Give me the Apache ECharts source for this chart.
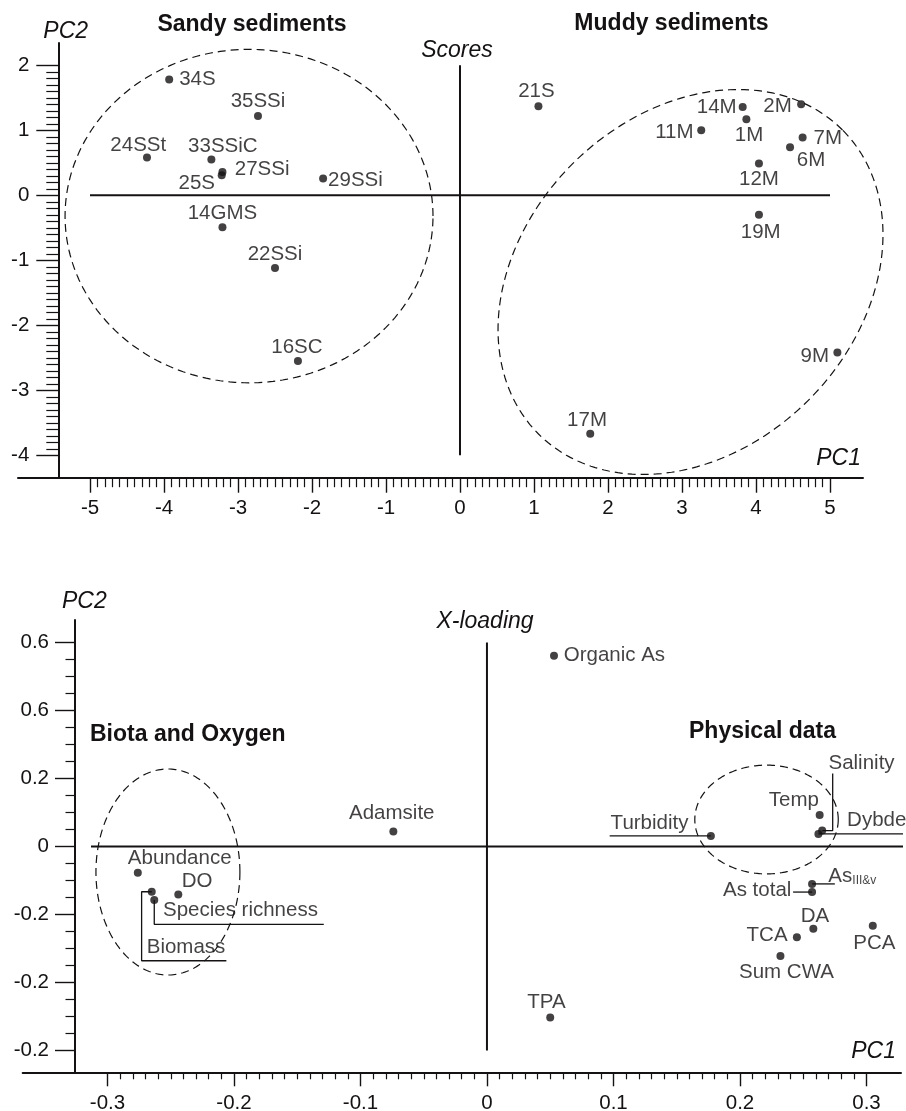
<!DOCTYPE html>
<html>
<head>
<meta charset="utf-8">
<script src="https://cdn.jsdelivr.net/npm/echarts@6/dist/echarts.min.js"></script>
<style>
  html, body { margin: 0; padding: 0; background: #fff; }
  #chart { width: 906px; height: 1111px; }
</style>
</head>
<body>
<div id="chart"></div>
<script>
// ---- PCA scores: sediment samples ----
const scoreNames = ['34S', '35SSi', '24SSt', '33SSiC', '27SSi', '25S', '29SSi', '14GMS', '22SSi', '16SC',
                    '21S', '14M', '2M', '1M', '11M', '7M', '6M', '12M', '19M', '9M', '17M'];
const scorePC1 = [-3.93, -2.73, -4.23, -3.36, -3.21, -3.22, -1.85, -3.21, -2.50, -2.19,
                  1.06, 3.82, 4.61, 3.87, 3.26, 4.63, 4.46, 4.04, 4.04, 5.10, 1.76];
const scorePC2 = [1.78, 1.22, 0.58, 0.55, 0.36, 0.31, 0.26, -0.49, -1.12, -2.55,
                  1.37, 1.36, 1.40, 1.17, 1.00, 0.89, 0.74, 0.49, -0.30, -2.42, -3.67];

// ---- PCA X-loadings: variables ----
const loadingNames = ['Organic As', 'Adamsite', 'Turbidity', 'Temp', 'Salinity', 'Dybde',
                      'Abundance', 'DO', 'Biomass', 'Species richness',
                      'As III&v', 'As total', 'DA', 'TCA', 'PCA', 'Sum CWA', 'TPA'];
const loadingPC1 = [0.053, -0.074, 0.177, 0.263, 0.265, 0.262,
                    -0.276, -0.244, -0.265, -0.263,
                    0.257, 0.257, 0.258, 0.245, 0.305, 0.232, 0.050];
const loadingPC2 = [0.561, 0.044, 0.031, 0.093, 0.047, 0.037,
                    -0.077, -0.141, -0.133, -0.157,
                    -0.110, -0.134, -0.242, -0.267, -0.233, -0.322, -0.503];

// ---- tick labels ----
const scoreXTicks = ['-5', '-4', '-3', '-2', '-1', '0', '1', '2', '3', '4', '5'];
const scoreYTicks = ['-4', '-3', '-2', '-1', '0', '1', '2'];
const loadingXTicks = ['-0.3', '-0.2', '-0.1', '0', '0.1', '0.2', '0.3'];
const loadingYTicks = ['-0.2', '-0.2', '-0.2', '0', '0.2', '0.6', '0.6'];

// ---- group outlines: [centre PC1, centre PC2, semi-axis 1 (PC1 units), semi-axis 2 (PC2 units), tilt deg] ----
const scoreGroups = [
  [-2.851, -0.32, 2.486, 2.565, 0],     // sandy sediments
  [3.115, -1.334, 2.905, 2.569, 45]     // muddy sediments
];
const loadingGroups = [
  [-0.2522, -0.075, 0.0569, 0.303, 0], // biota and oxygen
  [0.221, 0.0794, 0.0567, 0.160, 0]    // physical data
];

// ---- reference cross lines through the origin ----
const scoreCross = [[[-5, 0], [5, 0]], [[0, 2], [0, -4]]];
const loadingCross = [[[-0.313, 0], [0.331, 0]], [[0, 0.6], [0, -0.6]]];

// ---- leader lines from a variable to its label ----
const loadingLeaders = {
  'Turbidity': [[0.097, 0.031]],
  'Salinity': [[0.2733, 0.047], [0.2733, 0.215]],
  'Dybde': [[0.332, 0.037]],
  'Biomass': [[-0.273, -0.133], [-0.273, -0.336], [-0.206, -0.336]],
  'Species richness': [[-0.263, -0.229], [-0.129, -0.229]],
  'As III&v': [[0.275, -0.110]],
  'As total': [[0.242, -0.134]]
};

// label anchor: [text align, dx, dy] relative to the marker centre (px)
const scoreLabelPlacement = {
  '34S': ['left', 10, 0], '35SSi': ['center', 0, -15], '24SSt': ['center', -8.7, -12],
  '33SSiC': ['center', 11.5, -13], '27SSi': ['left', 12.3, -2.5], '25S': ['right', -6.7, 8.3],
  '29SSi': ['left', 5, 1.7], '14GMS': ['center', 0, -14], '22SSi': ['center', 0, -13.3],
  '16SC': ['center', -1, -13.5], '21S': ['center', -2, -15.2], '14M': ['right', -6, 0],
  '2M': ['right', -9.3, 2.4], '1M': ['center', 2.6, 15.7], '11M': ['right', -7.7, 1.7],
  '7M': ['left', 11, 0.6], '6M': ['left', 6.7, 12.7], '12M': ['center', 0, 15.9],
  '19M': ['center', 1.8, 17.5], '9M': ['right', -8.4, 4], '17M': ['center', -3.2, -13.2]
};
const loadingLabelPlacement = {
  'Organic As': ['left', 9.7, 0], 'Adamsite': ['center', -1.6, -18.4],
  'Turbidity': ['right', -22.4, -13], 'Temp': ['right', -0.7, -14.3],
  'Salinity': ['left', 6.3, -67.4], 'Dybde': ['left', 28.7, -13.3],
  'Abundance': ['left', -10, -14.4], 'DO': ['left', 3.4, -13.5],
  'Biomass': ['left', -5, 55.8], 'Species richness': ['left', 8.7, 10.7],
  'As III&v': ['left', 16.3, -7.3], 'As total': ['right', -20.7, -1.7],
  'DA': ['center', 1.6, -12.9], 'TCA': ['right', -9.3, -1.5],
  'PCA': ['center', 1.6, 17.6], 'Sum CWA': ['center', 6, 16.5], 'TPA': ['center', -3.8, -14.8]
};

const INK = '#141213';
const FONT = 'Liberation Sans, Arial, Helvetica, sans-serif';
const chart = echarts.init(document.getElementById('chart'), null, { renderer: 'canvas' });

function gridBox(left, top, width, height) {
  return { left, top, width, height, containLabel: false, outerBoundsMode: 'none', show: false };
}
const hiddenAxis = (gridIndex) => ({ type: 'value', gridIndex, show: false, min: 0, max: 1 });

function lineOnlyAxis(gridIndex, min, max, pos) {
  return {
    type: 'value', gridIndex, min, max, position: pos,
    axisLine: { show: true, onZero: false, lineStyle: { color: INK, width: 2 } },
    axisTick: { show: false }, axisLabel: { show: false },
    splitLine: { show: false }, minorSplitLine: { show: false }
  };
}
function tickAxis(gridIndex, min, max, interval, minorSplit, majorLen, minorLen, labels, margin, pos) {
  return {
    type: 'value', gridIndex, min, max, interval, position: pos,
    axisLine: { show: false, onZero: false },
    axisTick: { show: true, inside: false, length: majorLen, lineStyle: { color: INK, width: 1.4 } },
    minorTick: { show: true, splitNumber: minorSplit, length: minorLen, lineStyle: { color: INK, width: 1.2 } },
    axisLabel: {
      show: true, margin, color: INK, fontSize: 20.5, fontFamily: FONT,
      showMinLabel: true, showMaxLabel: true,
      formatter: (v, i) => labels[i]
    },
    splitLine: { show: false }, minorSplitLine: { show: false }
  };
}

function crossSeries(lines, axisIdx) {
  return lines.map(pts => ({
    type: 'line', xAxisIndex: axisIdx, yAxisIndex: axisIdx, data: pts, symbol: 'none',
    clip: false, silent: true, z: 2,
    lineStyle: { color: INK, width: 2 }
  }));
}
function outlineSeries(groups, axisIdx) {
  return {
    type: 'custom', xAxisIndex: axisIdx, yAxisIndex: axisIdx, data: groups, silent: true, z: 1,
    clip: false,
    renderItem: (params, api) => {
      const c = api.coord([api.value(0), api.value(1)]);
      const a = api.size([api.value(2), 0])[0];
      const b = api.size([0, api.value(3)])[1];
      const rot = api.value(4) * Math.PI / 180;
      const pts = [];
      for (let i = 0; i < 240; i++) {
        const t = i / 240 * Math.PI * 2;
        const u = a * Math.cos(t), v = b * Math.sin(t);
        pts.push([c[0] + u * Math.cos(rot) - v * Math.sin(rot),
                  c[1] - (u * Math.sin(rot) + v * Math.cos(rot))]);
      }
      return {
        type: 'polygon', shape: { points: pts },
        style: { fill: 'none', stroke: INK, lineWidth: 1.2, lineDash: [8, 5] }
      };
    }
  };
}
function pointSeries(names, xs, ys, placement, axisIdx) {
  return {
    type: 'scatter', xAxisIndex: axisIdx, yAxisIndex: axisIdx, symbol: 'circle', symbolSize: 8,
    z: 5, clip: false,
    itemStyle: { color: INK },
    data: names.map((n, i) => {
      const p = placement[n];
      const label = {
        show: true, position: 'inside', align: p[0], verticalAlign: 'middle',
        offset: [p[1], p[2]], color: INK, fontSize: 20.5, fontFamily: FONT
      };
      if (n === 'As III&v') {
        label.formatter = '{m|As}{s|III&v}';
        label.rich = {
          m: { fontSize: 20.5, fontFamily: FONT, color: INK, verticalAlign: 'bottom', lineHeight: 20 },
          s: { fontSize: 12, fontFamily: FONT, color: INK, verticalAlign: 'bottom', lineHeight: 8 }
        };
      } else {
        label.formatter = '{b}';
      }
      return { name: n, value: [xs[i], ys[i]], label };
    })
  };
}
function leaderSeries(axisIdx) {
  return Object.keys(loadingLeaders).map(n => {
    const i = loadingNames.indexOf(n);
    return {
      type: 'line', xAxisIndex: axisIdx, yAxisIndex: axisIdx, symbol: 'none', clip: false,
      silent: true, z: 3, lineStyle: { color: INK, width: 1.3 },
      data: [[loadingPC1[i], loadingPC2[i]]].concat(loadingLeaders[n])
    };
  });
}

const textEl = (text, x, y, font, align) => ({
  type: 'text', x, y, silent: true,
  style: { text, font, fill: INK, align, verticalAlign: 'middle', textAlign: align, textVerticalAlign: 'middle' }
});
const ITALIC = 'italic 23px ' + FONT;
const BOLD = 'bold 23px ' + FONT;

const option = {
  animation: false,
  backgroundColor: '#ffffff',
  grid: [
    // scores panel
    gridBox(18, 43, 845, 434.7),        // 0 data + x axis line
    gridBox(58.3, 43, 10, 434.7),       // 1 y axis line
    gridBox(58.3, 65.3, 10, 390),       // 2 y ticks
    gridBox(90, 43, 740, 434.7),        // 3 x ticks
    // loadings panel
    gridBox(22.7, 620, 878.3, 452.3),   // 4 data + x axis line
    gridBox(75, 620, 10, 452.3),        // 5 y axis line
    gridBox(75, 642.5, 10, 408),        // 6 y ticks
    gridBox(107.5, 620, 759, 452.3)     // 7 x ticks
  ],
  xAxis: [
    lineOnlyAxis(0, -5.973, 5.446, 'bottom'),
    hiddenAxis(1),
    hiddenAxis(2),
    tickAxis(3, -5, 5, 1, 10, 15, 9.5, scoreXTicks, 20, 'bottom'),
    lineOnlyAxis(4, -0.367, 0.3273, 'bottom'),
    hiddenAxis(5),
    hiddenAxis(6),
    tickAxis(7, -0.3, 0.3, 0.1, 10, 14, 7, loadingXTicks, 21, 'bottom')
  ],
  yAxis: [
    { type: 'value', gridIndex: 0, show: false, min: -4.345, max: 2.343 },
    lineOnlyAxis(1, 0, 1, 'left'),
    tickAxis(2, -4, 2, 1, 10, 22, 12, scoreYTicks, 29, 'left'),
    hiddenAxis(3),
    { type: 'value', gridIndex: 4, show: false, min: -0.6641, max: 0.6662 },
    lineOnlyAxis(5, 0, 1, 'left'),
    tickAxis(6, -0.6, 0.6, 0.2, 4, 20, 9.5, loadingYTicks, 26, 'left'),
    hiddenAxis(7)
  ],
  graphic: [
    textEl('PC2', 43.3, 32, ITALIC, 'left'),
    textEl('Sandy sediments', 252, 25, BOLD, 'center'),
    textEl('Muddy sediments', 671.5, 24, BOLD, 'center'),
    textEl('Scores', 457, 51, ITALIC, 'center'),
    textEl('PC1', 861, 459, ITALIC, 'right'),
    textEl('PC2', 62, 601.7, ITALIC, 'left'),
    textEl('X-loading', 485, 621.7, ITALIC, 'center'),
    textEl('Biota and Oxygen', 90, 735, BOLD, 'left'),
    textEl('Physical data', 689, 731.7, BOLD, 'left'),
    textEl('PC1', 896, 1051.7, ITALIC, 'right')
  ],
  series: [].concat(
    crossSeries(scoreCross, 0),
    [outlineSeries(scoreGroups, 0)],
    [pointSeries(scoreNames, scorePC1, scorePC2, scoreLabelPlacement, 0)],
    crossSeries(loadingCross, 4),
    [outlineSeries(loadingGroups, 4)],
    leaderSeries(4),
    [pointSeries(loadingNames, loadingPC1, loadingPC2, loadingLabelPlacement, 4)]
  )
};
chart.setOption(option);
</script>
</body>
</html>
